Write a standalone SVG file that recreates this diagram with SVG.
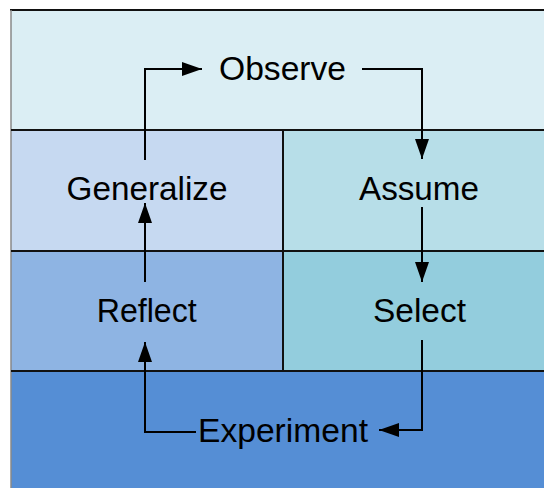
<svg xmlns="http://www.w3.org/2000/svg" width="544" height="488" viewBox="0 0 544 488">
  <defs>
    <marker id="arrow" viewBox="0 0 20 14" refX="20" refY="7" markerWidth="20" markerHeight="14" markerUnits="userSpaceOnUse" orient="auto">
      <path d="M0,0 L20,7 L0,14 Z" fill="#000"/>
    </marker>
    <style>
      .band { stroke: none; }
      .grid { stroke: #111; stroke-width: 2; fill: none; }
      .label { font-family: "Liberation Sans", Arial, sans-serif; font-size: 33px; fill: #000; text-anchor: middle; }
      .conn { stroke: #000; stroke-width: 2; fill: none; }
    </style>
  </defs>

  <rect x="0" y="0" width="544" height="488" fill="#fff"/>

  <!-- background bands -->
  <g id="band-observe">
    <rect class="band" x="11" y="10" width="533" height="120" fill="#DBEEF4"/>
    <text class="label" x="282.5" y="79.5" textLength="127" lengthAdjust="spacingAndGlyphs">Observe</text>
  </g>
  <g id="cell-generalize">
    <rect class="band" x="11" y="130" width="272" height="121" fill="#C6D9F1"/>
    <text class="label" x="147" y="200" textLength="161" lengthAdjust="spacingAndGlyphs">Generalize</text>
  </g>
  <g id="cell-assume">
    <rect class="band" x="283" y="130" width="261" height="121" fill="#B7DEE8"/>
    <text class="label" x="419" y="199.5" textLength="120" lengthAdjust="spacingAndGlyphs">Assume</text>
  </g>
  <g id="cell-reflect">
    <rect class="band" x="11" y="251" width="272" height="120" fill="#8EB4E3"/>
    <text class="label" x="146.7" y="322" textLength="100" lengthAdjust="spacingAndGlyphs">Reflect</text>
  </g>
  <g id="cell-select">
    <rect class="band" x="283" y="251" width="261" height="120" fill="#93CDDD"/>
    <text class="label" x="419.5" y="322" textLength="93" lengthAdjust="spacingAndGlyphs">Select</text>
  </g>
  <g id="band-experiment">
    <rect class="band" x="11" y="371" width="533" height="117" fill="#558ED5"/>
    <text class="label" x="283" y="442" textLength="170" lengthAdjust="spacingAndGlyphs">Experiment</text>
  </g>

  <!-- grid lines -->
  <g id="grid">
    <line class="grid" x1="10" y1="10" x2="544" y2="10"/>
    <line x1="11" y1="10" x2="11" y2="488" stroke="#888" stroke-width="1.5"/>
    <line class="grid" x1="11" y1="130" x2="544" y2="130"/>
    <line class="grid" x1="11" y1="251" x2="544" y2="251"/>
    <line class="grid" x1="11" y1="371" x2="544" y2="371"/>
    <line class="grid" x1="283" y1="130" x2="283" y2="371"/>
  </g>

  <!-- cycle connectors -->
  <g id="connectors">
    <polyline class="conn" points="145,160 145,69 202,69" marker-end="url(#arrow)"/>
    <polyline class="conn" points="362,69 422,69 422,159" marker-end="url(#arrow)"/>
    <polyline class="conn" points="422,207 422,282" marker-end="url(#arrow)"/>
    <polyline class="conn" points="422,340 422,430 379,430" marker-end="url(#arrow)"/>
    <polyline class="conn" points="196,432 145,432 145,342" marker-end="url(#arrow)"/>
    <polyline class="conn" points="145,282 145,203" marker-end="url(#arrow)"/>
  </g>
</svg>
